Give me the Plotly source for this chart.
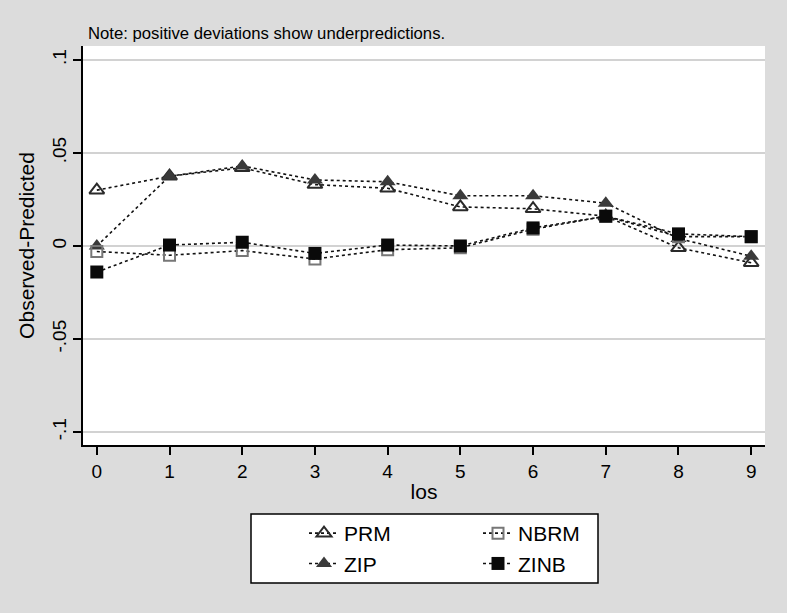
import plotly.graph_objects as go

los = [0, 1, 2, 3, 4, 5, 6, 7, 8, 9]
prm = [0.030, 0.0375, 0.042, 0.033, 0.031, 0.021, 0.020, 0.016, -0.001, -0.009]
zip_ = [0.000, 0.0375, 0.043, 0.0355, 0.0345, 0.027, 0.027, 0.023, 0.004, -0.0055]
nbrm = [-0.003, -0.005, -0.0025, -0.007, -0.002, -0.001, 0.009, 0.016, 0.005, 0.005]
zinb = [-0.014, 0.0005, 0.002, -0.004, 0.0005, 0.0, 0.0097, 0.016, 0.0065, 0.005]

y_ticks = [-0.1, -0.05, 0, 0.05, 0.1]
y_ticklabels = ["-.1", "-.05", "0", ".05", ".1"]

BG = "#dcdcdc"
FONT = "Liberation Sans, Arial, sans-serif"

# plot area in pixels: x 83..765, y 46..445
W, H = 787, 613
L, R, T, B = 83, 22, 46, 168
pw, ph = W - L - R, H - T - B


def px_x(p):
    return (p - L) / pw


def px_y(p):
    return (H - B - p) / ph


fig = go.Figure()

series = [
    ("PRM", prm, "triangle-up-open", "#2a2a2a", 13, 2, "legend"),
    ("ZIP", zip_, "triangle-up", "#3a3a3a", 14, 0, "legend"),
    ("NBRM", nbrm, "square-open", "#777777", 11, 2, "legend2"),
    ("ZINB", zinb, "square", "#0a0a0a", 13, 0, "legend2"),
]
for name, ys, sym, col, size, lw, lg in series:
    fig.add_trace(go.Scatter(
        x=los, y=ys, name=name, mode="lines+markers", legend=lg,
        line=dict(color="#111111", width=1.6, dash="dot"),
        marker=dict(symbol=sym, size=size, color=col,
                    line=dict(color=col, width=lw)),
    ))

legend_common = dict(
    orientation="v", yanchor="top", xanchor="left",
    bgcolor="rgba(0,0,0,0)", borderwidth=0,
    font=dict(size=21, color="black"), itemwidth=30,
    traceorder="normal", tracegroupgap=0,
)

fig.update_layout(
    width=W, height=H,
    paper_bgcolor=BG, plot_bgcolor="white",
    margin=dict(l=L, r=R, t=T, b=B),
    font=dict(family=FONT, size=19, color="black"),
    showlegend=True,
    legend=dict(x=px_x(304), y=px_y(513), **legend_common),
    legend2=dict(x=px_x(478), y=px_y(513), **legend_common),
    shapes=[dict(
        type="rect", xref="paper", yref="paper",
        x0=px_x(251), x1=px_x(598), y0=px_y(583), y1=px_y(514),
        fillcolor="white", line=dict(color="black", width=1.5), layer="below",
    )],
    annotations=[dict(
        text="Note: positive deviations show underpredictions.",
        xref="paper", yref="paper", x=0.0, y=1.0, xanchor="left", yanchor="bottom",
        xshift=3, yshift=1, showarrow=False, font=dict(size=16.7, color="black"),
    )],
)

fig.update_xaxes(
    range=[-0.19, 9.19], tickvals=los, ticktext=[str(v) for v in los],
    showgrid=False, zeroline=False, showline=True, linecolor="black", linewidth=1.5,
    ticks="outside", ticklen=8, tickcolor="black", tickwidth=1.5,
    tickfont=dict(size=19),
    title=dict(text="los", font=dict(size=21), standoff=4),
)
fig.update_yaxes(
    range=[-0.107, 0.1075], tickvals=y_ticks, ticktext=y_ticklabels,
    tickangle=-90,
    showgrid=True, gridcolor="#d2d2d2", gridwidth=2,
    zeroline=False, showline=True, linecolor="black", linewidth=1.5,
    ticks="outside", ticklen=8, tickcolor="black", tickwidth=1.5,
    tickfont=dict(size=19),
    title=dict(text="Observed-Predicted", font=dict(size=21), standoff=8),
)

fig.write_html(
    "out.html",
    config={"displayModeBar": False},
    post_script=(
        "document.body.style.margin='0';"
        "document.body.style.overflow='hidden';"
        "document.body.style.background='" + BG + "';"
    ),
)
